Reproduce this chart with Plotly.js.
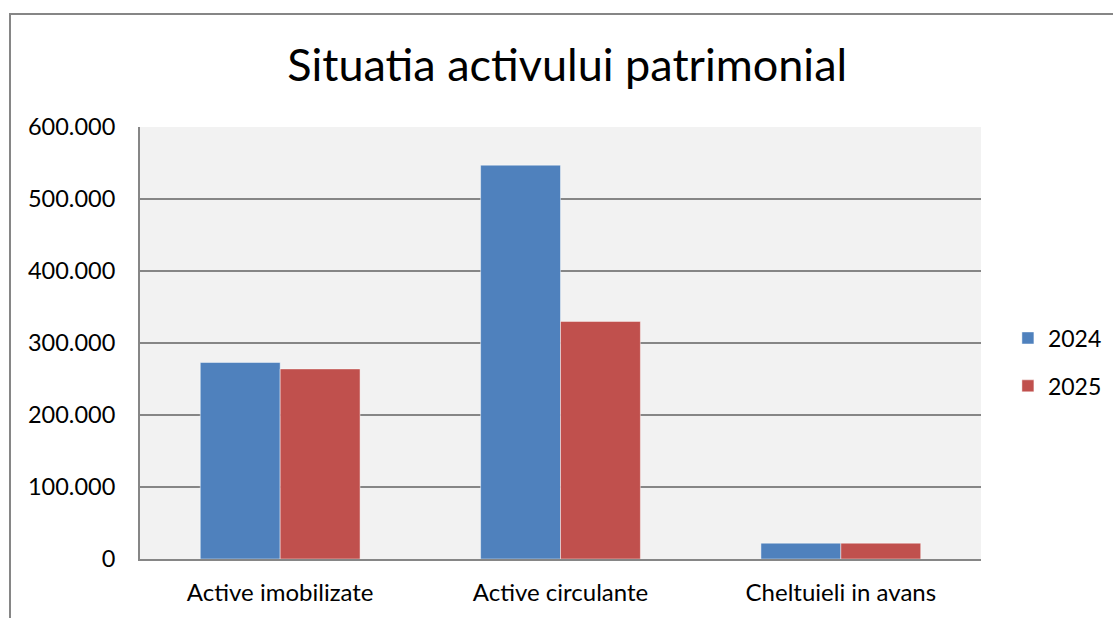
<!DOCTYPE html>
<html>
<head>
<meta charset="utf-8">
<script src="https://cdn.plot.ly/plotly-3.0.1.min.js"></script>
<style>
html,body{margin:0;padding:0;background:#fff;overflow:hidden;width:1113px;height:618px;}
#frame{position:absolute;left:9px;top:13px;width:1300px;height:800px;border:2px solid #868686;box-sizing:border-box;}
#chart{position:absolute;left:0;top:0;width:1113px;height:618px;}
</style>
</head>
<body>
<div id="frame"></div>
<div id="chart"></div>
<script>
const categories = ["Active imobilizate", "Active circulante", "Cheltuieli in avans"];
const values2024 = [273000, 547000, 22000];
const values2025 = [264000, 330000, 22000];
const seriesNames = ["2024", "2025"];
const yTicks = [0, 100000, 200000, 300000, 400000, 500000, 600000];

const font = "Lato, 'Open Sans', sans-serif";
const traces = [
  {type:'bar', name:seriesNames[0], x:categories, y:values2024, legendgroup:'a',
   marker:{color:'#4F81BD', line:{color:'rgba(255,255,255,0.45)', width:1}}},
  {type:'bar', name:seriesNames[1], x:categories, y:values2025, legendgroup:'b',
   marker:{color:'#C0504D', line:{color:'rgba(255,255,255,0.45)', width:1}}}
];
const layout = {
  width:1113, height:618,
  paper_bgcolor:'rgba(0,0,0,0)', plot_bgcolor:'#F2F2F2',
  margin:{l:140, r:132, t:127, b:59, autoexpand:false},
  separators:',.',
  font:{family:font, color:'#000', size:18},
  title:{text:'Situatia activului patrimonial', font:{size:45, family:font, color:'#000'},
         xref:'paper', x:0.508, xanchor:'center', yref:'container', y:0.895, yanchor:'middle'},
  barmode:'group', bargap:0.43, bargroupgap:0,
  xaxis:{showline:true, linecolor:'#868686', linewidth:2, showgrid:false, ticks:'',
         tickfont:{size:24, family:font}, ticklabelstandoff:11},
  yaxis:{range:[0,600000], tickvals:yTicks, tickformat:',d', showgrid:true, gridcolor:'#868686', gridwidth:2,
         showline:true, linecolor:'#868686', linewidth:2, zeroline:false, ticks:'',
         tickfont:{size:23.5, family:font}, ticklabelstandoff:18},
  legend:{x:1.032, xanchor:'left', y:0.456, yanchor:'middle', tracegroupgap:15,
          font:{size:23, family:font}, bgcolor:'rgba(0,0,0,0)', itemwidth:30}
};
Plotly.newPlot('chart', traces, layout, {displayModeBar:false, staticPlot:true});
</script>
</body>
</html>
